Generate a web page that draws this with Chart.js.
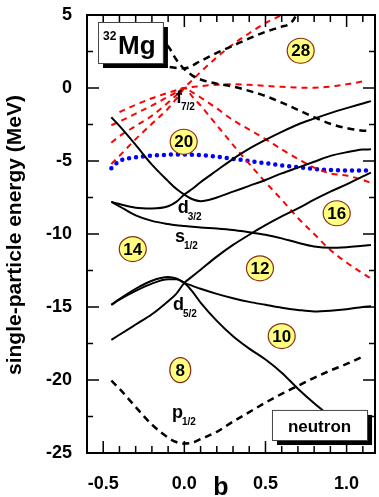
<!DOCTYPE html>
<html lang="en">
<head>
<meta charset="UTF-8">
<title>32Mg single-particle levels</title>
<script src="https://cdn.jsdelivr.net/npm/chart.js@4.4.1/dist/chart.umd.min.js"></script>
<style>
  body { margin: 0; background: #fff; }
  #levels { display: block; }
</style>
</head>
<body>
<canvas id="levels" width="379" height="497"></canvas>
<script>
// deformation grid shared by most levels
const bGrid = [-0.45, -0.4, -0.3, -0.2, -0.1, -0.05, 0, 0.05, 0.1, 0.2, 0.3, 0.4, 0.5, 0.6, 0.7, 0.8, 0.9, 1.0, 1.1, 1.15];

// solid sd-shell levels
const d32a = [-2.0, -2.6, -3.9, -5.25, -6.38, -6.9, -7.3, -7.62, -7.75, -7.5, -7.1, -6.7, -6.3, -5.85, -5.45, -5.05, -4.65, -4.4, -4.22, -4.2];
const d32b = [-7.8, -7.95, -8.2, -8.25, -8.1, -7.8, -7.3, -6.9, -6.45, -5.65, -4.85, -4.15, -3.55, -3.0, -2.5, -2.1, -1.72, -1.38, -1.06, -0.9];
const s12  = [-7.8, -8.1, -8.72, -9.1, -9.32, -9.4, -9.45, -9.5, -9.55, -9.62, -9.72, -9.88, -10.05, -10.3, -10.6, -10.85, -10.95, -10.9, -10.8, -10.75];
const d52a = [-17.25, -16.9, -16.2, -15.5, -14.6, -14.1, -13.35, -12.9, -12.45, -11.55, -10.75, -10.05, -9.4, -8.8, -8.25, -7.65, -7.1, -6.6, -6.05, -5.8];
const d52b = [-14.85, -14.45, -13.75, -13.2, -12.95, -13.05, -13.35, -13.55, -13.75, -14.1, -14.4, -14.65, -14.85, -15.05, -15.2, -15.3, -15.25, -15.15, -15.0, -14.95];
const d52c = [-14.85, -14.5, -13.9, -13.4, -13.1, -13.1, -13.35, -13.95, -14.7, -15.95, -17.0, -17.85, -18.6, -19.5, -20.6, -21.6, -22.5, null, null, null];

// dashed p levels
const p12  = [-20.05, -20.6, -21.85, -23.05, -23.95, -24.25, -24.35, -24.3, -24.05, -23.55, -22.85, -22.2, -21.55, -20.95, -20.4, -19.85, -19.35, -18.9, -18.4, null];
const p32a = [4.2, 4.1, 3.9, 3.6, 2.85, 1.95, 1.3, 0.85, 0.58, 0.3, 0.1, -0.2, -0.55, -1.0, -1.5, -2.0, -2.45, -2.75, -2.92, -2.95];
const bP32b = [-0.45, -0.3, -0.2, -0.1, 0, 0.1, 0.2, 0.3, 0.4, 0.5, 0.6, 0.65, 0.68, 0.7];
const p32b = [2.4, 2.0, 1.7, 1.45, 1.35, 1.85, 2.4, 2.9, 3.4, 3.85, 4.2, 4.4, 4.8, 5.4];

// red dashed f7/2 levels
const f72a = [null, -1.65, -1.15, -0.7, -0.33, -0.15, 0, -0.6, -1.2, -2.55, -3.9, -5.2, -6.45, -7.65, -8.9, -10.0, -11.1, -11.95, -12.7, -13.05];
const f72b = [-2.55, -2.3, -1.75, -1.2, -0.6, -0.3, 0, -0.3, -0.65, -1.4, -2.2, -2.85, -3.5, -4.2, -4.85, -5.45, -5.85, -6.0, -6.3, -6.5];
const f72c = [-3.75, -3.3, -2.6, -1.9, -1.0, -0.5, 0, 0.07, 0.13, 0.22, 0.25, 0.22, 0.15, 0.08, 0.03, 0.02, 0.1, 0.25, 0.45, null];
const f72d = [-5.2, -4.65, -3.5, -2.45, -1.4, -0.75, 0, 0.55, 1.1, 2.1, 3.0, 3.75, 4.45, 5.0, 5.6, null, null, null, null, null];

// Fermi level (blue dots)
const fermi = [-5.5, -5.0, -4.75, -4.63, -4.57, -4.55, -4.55, -4.57, -4.6, -4.7, -4.85, -5.0, -5.15, -5.3, -5.42, -5.55, -5.62, -5.65, -5.65, -5.65];

// ticks
const xTickVals = [-0.5, 0, 0.5, 1.0];
const yTickVals = [-25, -20, -15, -10, -5, 0, 5];

// shell gap numbers
const gapNums = ['28', '20', '16', '14', '12', '10', '8'];
const gapB = [0.717, -0.004, 0.939, -0.318, 0.466, 0.6, -0.025];
const gapE = [2.55, -3.68, -8.58, -11.03, -12.35, -16.99, -19.32];

// orbital labels
const orbMain = ['f', 'd', 's', 'd', 'p'];
const orbSub = ['7/2', '3/2', '1/2', '5/2', '1/2'];
const orbB = [-0.052, -0.041, -0.058, -0.07, -0.076];
const orbE = [-1.05, -8.58, -10.53, -15.2, -22.62];

function pts(bs, es) {
  const out = [];
  bs.forEach((b, i) => { if (es[i] !== null) out.push({x: b, y: es[i]}); });
  return out;
}

const solid = {borderColor: '#000', borderWidth: 2};
const blackDash = {borderColor: '#000', borderWidth: 2.5, borderDash: [7, 5]};
const redDash = {borderColor: '#ff0000', borderWidth: 2, borderDash: [6, 5]};
const blueDot = {borderColor: '#0000ff', borderWidth: 4.5, borderDash: [0, 7], borderCapStyle: 'round'};

function ds(data, style) {
  return Object.assign({data: data, pointRadius: 0, fill: false, cubicInterpolationMode: 'monotone'}, style);
}

const FONT = '"Liberation Sans", Arial, sans-serif';

function boxWithShadow(ctx, l, t, w, h) {
  ctx.fillStyle = '#000';
  ctx.fillRect(l + 5, t + 5, w, h);
  ctx.fillStyle = '#fff';
  ctx.fillRect(l, t, w, h);
  ctx.strokeStyle = '#444';
  ctx.lineWidth = 1;
  ctx.strokeRect(l + 0.5, t + 0.5, w, h);
}

const decor = {
  id: 'decor',
  afterDatasetsDraw(chart) {
    const {ctx, chartArea: a, scales: {x, y}} = chart;
    ctx.save();
    ctx.setLineDash([]);
    ctx.lineCap = 'butt';

    // frame and inward ticks
    ctx.strokeStyle = '#000';
    ctx.lineWidth = 2;
    ctx.strokeRect(a.left, a.top, a.right - a.left, a.bottom - a.top);
    ctx.lineWidth = 1.5;
    ctx.beginPath();
    for (let v = -25; v <= 5; v += 2.5) {
      const py = y.getPixelForValue(v);
      const len = (v % 5 === 0) ? 12 : 6;
      ctx.moveTo(a.left, py); ctx.lineTo(a.left + len, py);
      ctx.moveTo(a.right, py); ctx.lineTo(a.right - len, py);
    }
    for (let k = -5; k <= 11; k++) {
      const px = x.getPixelForValue(k / 10);
      const len = (k % 5 === 0) ? 12 : 7;
      ctx.moveTo(px, a.bottom); ctx.lineTo(px, a.bottom - len);
      ctx.moveTo(px, a.top); ctx.lineTo(px, a.top + len);
    }
    ctx.stroke();

    // 32Mg box
    const ml = x.getPixelForValue(-0.532), mr = x.getPixelForValue(-0.132);
    const mt = y.getPixelForValue(4.52), mb = y.getPixelForValue(1.71);
    boxWithShadow(ctx, ml, mt, mr - ml, mb - mt);
    ctx.fillStyle = '#000';
    ctx.textAlign = 'left';
    ctx.textBaseline = 'alphabetic';
    ctx.font = 'bold 12px ' + FONT;
    ctx.fillText('32', ml + 5, mt + 18);
    ctx.font = 'bold 26px ' + FONT;
    ctx.fillText('Mg', ml + 20, mt + 32);

    // neutron box
    const nl = x.getPixelForValue(0.54), nr = x.getPixelForValue(1.126);
    const nt = y.getPixelForValue(-22.05), nb = y.getPixelForValue(-24.11);
    boxWithShadow(ctx, nl, nt, nr - nl, nb - nt);
    ctx.fillStyle = '#000';
    ctx.textAlign = 'center';
    ctx.font = 'bold 17px ' + FONT;
    ctx.fillText('neutron', (nl + nr) / 2, nt + 22.5);

    // shell gap circles
    gapNums.forEach((n, i) => {
      const cx = x.getPixelForValue(gapB[i]), cy = y.getPixelForValue(gapE[i]);
      const rx = n.length > 1 ? 13.5 : 10.5, ry = 12.5;
      ctx.beginPath();
      ctx.ellipse(cx, cy, rx, ry, 0, 0, Math.PI * 2);
      ctx.fillStyle = '#ffff80';
      ctx.fill();
      ctx.strokeStyle = '#8b2d1a';
      ctx.lineWidth = 1.2;
      ctx.stroke();
      ctx.fillStyle = '#000';
      ctx.font = 'bold 17px ' + FONT;
      ctx.textAlign = 'center';
      ctx.textBaseline = 'middle';
      ctx.fillText(n, cx, cy + 1);
    });

    // orbital labels
    ctx.textAlign = 'left';
    ctx.textBaseline = 'alphabetic';
    orbMain.forEach((m, i) => {
      const px = x.getPixelForValue(orbB[i]), py = y.getPixelForValue(orbE[i]);
      ctx.font = 'bold 18px ' + FONT;
      ctx.fillText(m, px, py);
      const w = ctx.measureText(m).width;
      ctx.font = 'bold 10px ' + FONT;
      ctx.fillText(orbSub[i], px + w - 1, py + 7);
    });

    // axis titles
    ctx.font = 'bold 21px ' + FONT;
    ctx.textAlign = 'center';
    ctx.textBaseline = 'middle';
    ctx.save();
    ctx.translate(15, 235);
    ctx.rotate(-Math.PI / 2);
    ctx.fillText('single-particle energy (MeV)', 0, 0);
    ctx.restore();
    ctx.textBaseline = 'alphabetic';
    ctx.font = 'bold 25px ' + FONT;
    ctx.fillText('b', 221, 495);

    ctx.restore();
  }
};

new Chart(document.getElementById('levels').getContext('2d'), {
  type: 'line',
  data: {
    datasets: [
      ds(pts(bGrid, d32a), solid),
      ds(pts(bGrid, d32b), solid),
      ds(pts(bGrid, s12), solid),
      ds(pts(bGrid, d52a), solid),
      ds(pts(bGrid, d52b), solid),
      ds(pts(bGrid, d52c), solid),
      ds(pts(bGrid, p12), blackDash),
      ds(pts(bGrid, p32a), blackDash),
      ds(pts(bP32b, p32b), blackDash),
      ds(pts(bGrid, f72a), redDash),
      ds(pts(bGrid, f72b), redDash),
      ds(pts(bGrid, f72c), redDash),
      ds(pts(bGrid, f72d), redDash),
      ds(pts(bGrid, fermi), blueDot)
    ]
  },
  options: {
    responsive: false,
    animation: false,
    devicePixelRatio: 1,
    layout: {padding: {top: 15, right: 4, left: 0, bottom: 0}},
    plugins: {legend: {display: false}, tooltip: {enabled: false}},
    scales: {
      x: {
        type: 'linear', min: -0.6, max: 1.175,
        grid: {display: false, drawTicks: false}, border: {display: false},
        afterBuildTicks: s => { s.ticks = xTickVals.map(v => ({value: v})); },
        afterFit: s => { s.height = 44; s.paddingLeft = 0; s.paddingRight = 0; },
        ticks: {
          color: '#000', padding: 20,
          font: {family: FONT, size: 18, weight: 'bold'},
          callback: v => v.toFixed(1)
        }
      },
      y: {
        min: -25, max: 5,
        grid: {display: false, drawTicks: false}, border: {display: false},
        afterBuildTicks: s => { s.ticks = yTickVals.map(v => ({value: v})); },
        afterFit: s => { s.width = 87; s.paddingTop = 0; s.paddingBottom = 0; },
        ticks: {
          color: '#000', padding: 15,
          font: {family: FONT, size: 18, weight: 'bold'}
        }
      }
    }
  },
  plugins: [decor]
});
</script>
</body>
</html>
